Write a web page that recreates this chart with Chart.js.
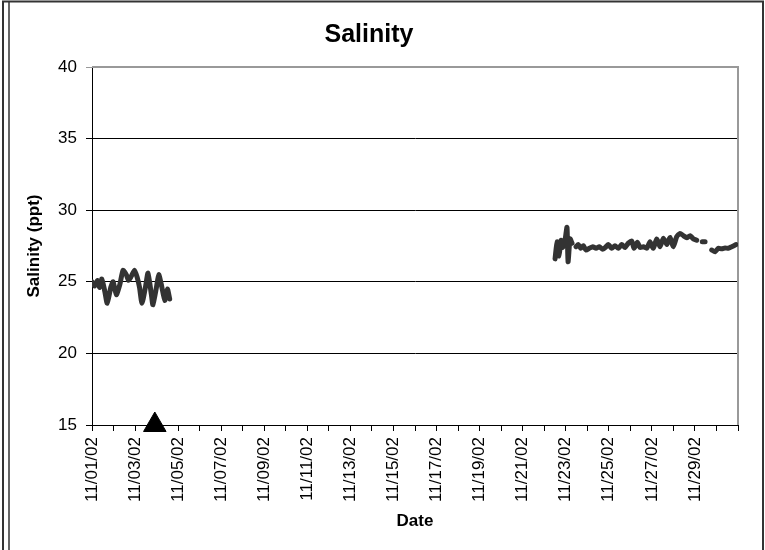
<!DOCTYPE html>
<html>
<head>
<meta charset="utf-8">
<title>Salinity</title>
<script src="https://cdn.jsdelivr.net/npm/chart.js@4.4.1/dist/chart.umd.min.js"></script>
<style>
  html, body { margin: 0; padding: 0; background: #fff; }
</style>
</head>
<body>
<canvas id="chart" width="765" height="550"></canvas>
<script>
// ── Data (hours since 11/01/02 00:00, salinity in ppt; null = logger gap) ─────
const hours = [
  0, 2.9, 6, 8.6, 11, 14.2, 17, 20.9, 23.5, 27.1, 31, 34.6, 38.2, 40.8, 43.9,
  47.5, 50.4, 53, 55.7, 59.5, 62.4, 66.2, 67.9, 71.8, 74.4, 77.3, 81.1, 84, 86.6,
  100,
  516.1, 518.3, 520.5, 522.8, 525, 527.2, 529.4, 530.6, 532.8, 535,
  537,
  539.5, 542, 544.7, 547.6, 550.6, 554.3, 558.1, 561.8, 565.4, 569.2,
  572.9, 575.5, 579.3, 582.9, 586.6, 590.4, 594.1, 597.8, 601.6, 604.1,
  607.8, 610.8, 614.5, 618.3, 621.9, 625.6, 629.4, 633.1, 636.8, 640.6,
  644.3, 647.9, 651.7, 655.4, 659.1, 662.9, 666.6, 670.2, 674,
  677,
  680.2, 683.3,
  685.5,
  690.7, 694.4, 698.1, 701.9, 705.6, 709.2, 713, 717.8,
];
const salinity = [
  25.0, 24.7, 25.1, 24.6, 25.2, 24.35, 23.5, 24.6, 25.0, 24.1, 24.8, 25.8, 25.5, 25.1, 25.4,
  25.8, 25.3, 24.6, 23.5, 24.6, 25.6, 24.1, 23.4, 24.6, 25.5, 24.8, 23.7, 24.5, 23.8,
  null,
  26.6, 27.8, 26.8, 27.9, 27.4, 27.9, 28.8, 26.4, 28.0, 27.7,
  null,
  27.45, 27.6, 27.34, 27.52, 27.22, 27.34, 27.45, 27.34, 27.45, 27.27,
  27.45, 27.6, 27.34, 27.52, 27.34, 27.6, 27.4, 27.7, 27.85, 27.34,
  27.76, 27.4, 27.45, 27.34, 27.8, 27.34, 27.99, 27.45, 28.04, 27.6,
  28.1, 27.45, 28.15, 28.38, 28.22, 28.08, 28.22, 28.0, 27.9,
  null,
  27.8, 27.8,
  null,
  27.22, 27.1, 27.34, 27.3, 27.36, 27.34, 27.45, 27.6,
];

// one label per day tick, every other day shown
const xTickLabels = [
  "11/01/02", "", "11/03/02", "", "11/05/02", "", "11/07/02", "", "11/09/02", "",
  "11/11/02", "", "11/13/02", "", "11/15/02", "", "11/17/02", "", "11/19/02", "",
  "11/21/02", "", "11/23/02", "", "11/25/02", "", "11/27/02", "", "11/29/02", "", "",
];

// event marker on the date axis
const markerHour = 70;
const markerValue = 15;

const FONT = "'Liberation Sans', Arial, sans-serif";
Chart.defaults.font.family = FONT;
Chart.defaults.color = "#000";

// ── Plugins: outer frame + grey plot border ──────────────────────────────────
const framePlugin = {
  id: "frame",
  beforeDraw(chart) {
    const ctx = chart.ctx;
    ctx.save();
    ctx.fillStyle = "#fff";
    ctx.fillRect(0, 0, chart.width, chart.height);
    ctx.strokeStyle = "#333";
    ctx.lineWidth = 2;
    ctx.beginPath();
    ctx.moveTo(3, chart.height + 5);
    ctx.lineTo(3, 1.5);
    ctx.lineTo(763, 1.5);
    ctx.lineTo(763, chart.height + 5);
    ctx.stroke();
    ctx.lineWidth = 1.5;
    ctx.beginPath();
    ctx.moveTo(9, 1.5);
    ctx.lineTo(9, chart.height + 5);
    ctx.stroke();
    ctx.restore();
  },
  beforeDatasetsDraw(chart) {
    const { left, right, top } = chart.chartArea;
    const ctx = chart.ctx;
    ctx.save();
    ctx.strokeStyle = "#999";
    ctx.lineWidth = 2;
    ctx.beginPath();
    ctx.moveTo(left, top);
    ctx.lineTo(right, top);
    ctx.lineTo(right, chart.chartArea.bottom);
    ctx.stroke();
    ctx.restore();
  },
};

const series = hours.map((h, i) => ({ x: h, y: salinity[i] }));

new Chart(document.getElementById("chart"), {
  type: "line",
  data: {
    datasets: [
      {
        label: "Salinity",
        data: series,
        borderColor: "#333",
        borderWidth: 5,
        borderJoinStyle: "round",
        borderCapStyle: "round",
        tension: 0.2,
        pointRadius: 0,
        spanGaps: false,
      },
      {
        label: "Marker",
        data: [{ x: markerHour, y: markerValue }],
        showLine: false,
        pointStyle: "triangle",
        pointRadius: 13,
        backgroundColor: "#000",
        borderColor: "#000",
        borderWidth: 1,
        clip: false,
      },
    ],
  },
  options: {
    responsive: false,
    animation: false,
    layout: { padding: { left: 0, right: 27, top: 0, bottom: 0 } },
    plugins: {
      legend: { display: false },
      tooltip: { enabled: false },
      title: {
        display: true,
        text: "Salinity",
        color: "#000",
        font: { size: 25, weight: "bold" },
        padding: { top: 20, bottom: 17 },
      },
    },
    scales: {
      x: {
        type: "linear",
        min: 0,
        max: 720,
        afterFit: (s) => { s.height = 125; },
        ticks: {
          stepSize: 24,
          autoSkip: false,
          maxRotation: 90,
          minRotation: 90,
          padding: 6,
          font: { size: 17 },
          callback: (v) => xTickLabels[Math.round(v / 24)] ?? "",
        },
        grid: { drawOnChartArea: false, drawTicks: true, tickLength: 6, color: "#000" },
        border: { color: "#000", width: 1 },
        title: {
          display: true,
          text: "Date",
          font: { size: 17, weight: "bold" },
          padding: { top: 2, bottom: 18 },
        },
      },
      y: {
        min: 15,
        max: 40,
        afterFit: (s) => { s.width = 92; },
        ticks: { stepSize: 5, padding: 9, font: { size: 17 } },
        grid: {
          color: (c) => (c.tick && c.tick.value === 40 ? "#999" : "#000"),
          tickLength: 6,
        },
        border: { color: "#000", width: 1 },
        title: {
          display: true,
          text: "Salinity (ppt)",
          font: { size: 17, weight: "bold" },
          padding: { top: 24 },
        },
      },
    },
  },
  plugins: [framePlugin],
});
</script>
</body>
</html>
